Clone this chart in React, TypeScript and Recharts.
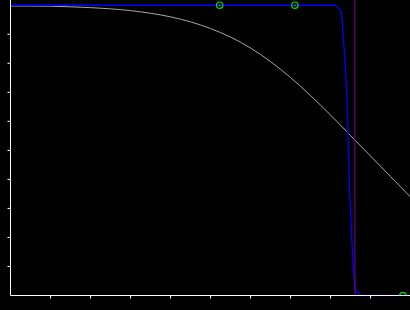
import React from "react";
import { ComposedChart, Line, Scatter, XAxis, YAxis, ReferenceLine } from "recharts";

// Gray curve (x, value)
const grayX = [0, 0.5, 1, 1.5, 2, 2.5, 3, 3.5, 4, 4.5, 5, 5.5, 6, 6.5, 7, 7.5, 8, 8.5, 9, 9.5, 10];
const grayY = [0.9973, 0.9972, 0.9966, 0.9945, 0.9917, 0.9876, 0.9814, 0.9724, 0.96, 0.9428, 0.9197, 0.8905, 0.8526, 0.8061, 0.751, 0.6889, 0.6218, 0.5512, 0.4805, 0.4099, 0.3393];

// Blue steep curve
const blueX = [0, 8.075, 8.15, 8.225, 8.275, 8.3, 8.325, 8.35, 8.375, 8.4, 8.425, 8.45, 8.475, 8.5, 8.525, 8.55, 8.575, 8.6, 8.625, 8.675, 8.75, 8.8, 10];
const blueY = [1.0, 1.0, 0.996, 0.986, 0.966, 0.93, 0.88, 0.83, 0.77, 0.71, 0.62, 0.48, 0.37, 0.3, 0.22, 0.15, 0.09, 0.05, 0.025, 0.01, 0.003, 0, 0];

// Green markers
const markerX = [5.23, 7.11, 9.81];
const markerY = [1.0, 1.0, 0.0];

// Vertical reference
const verticalX = 8.61;

const xTicks = [1, 2, 3, 4, 5, 6, 7, 8, 9, 10];
const yTicks = [0.1, 0.2, 0.3, 0.4, 0.5, 0.6, 0.7, 0.8, 0.9];

const grayData = grayX.map((x, i) => ({ x, g: grayY[i] }));
const blueData = blueX.map((x, i) => ({ x, b: blueY[i] }));
const markerData = markerX.map((x, i) => ({ x, m: markerY[i] }));

const MarkerShape = (props: any) => {
  const { cx, cy } = props;
  return (
    <g>
      <circle cx={cx} cy={cy} r={3.2} fill="none" stroke="#00e000" strokeWidth={1.2} />
      <circle cx={cx} cy={cy} r={0.8} fill="#00e000" />
    </g>
  );
};

const NoLabel = () => <g />;

export default function App() {
  return (
    <div style={{ position: "absolute", left: 0, top: 0, width: 410, height: 310, background: "#000", overflow: "hidden" }}>
      <ComposedChart width={410.5} height={310} margin={{ top: 0, right: 0, bottom: 0, left: 0.5 }}>
        <XAxis
          type="number"
          dataKey="x"
          domain={[0, 10]}
          ticks={xTicks}
          tick={NoLabel}
          tickSize={3}
          height={14.5}
          stroke="#ffffff"
          axisLine={{ stroke: "#ffffff" }}
          tickLine={{ stroke: "#ffffff" }}
          allowDataOverflow
        />
        <YAxis
          type="number"
          domain={[0, 1.018]}
          ticks={yTicks}
          tick={NoLabel}
          tickSize={3}
          width={10}
          stroke="#ffffff"
          axisLine={{ stroke: "#ffffff" }}
          tickLine={{ stroke: "#ffffff" }}
          allowDataOverflow
        />
        <Line data={grayData} dataKey="g" type="monotone" stroke="#a8a8a8" strokeWidth={1} dot={false} isAnimationActive={false} />
        <Line data={blueData} dataKey="b" type="monotone" stroke="#0000ff" strokeWidth={1.3} dot={false} isAnimationActive={false} />
        <ReferenceLine x={verticalX} stroke="#800080" strokeWidth={1} />
        <Scatter data={markerData} dataKey="m" shape={<MarkerShape />} isAnimationActive={false} />
      </ComposedChart>
    </div>
  );
}
